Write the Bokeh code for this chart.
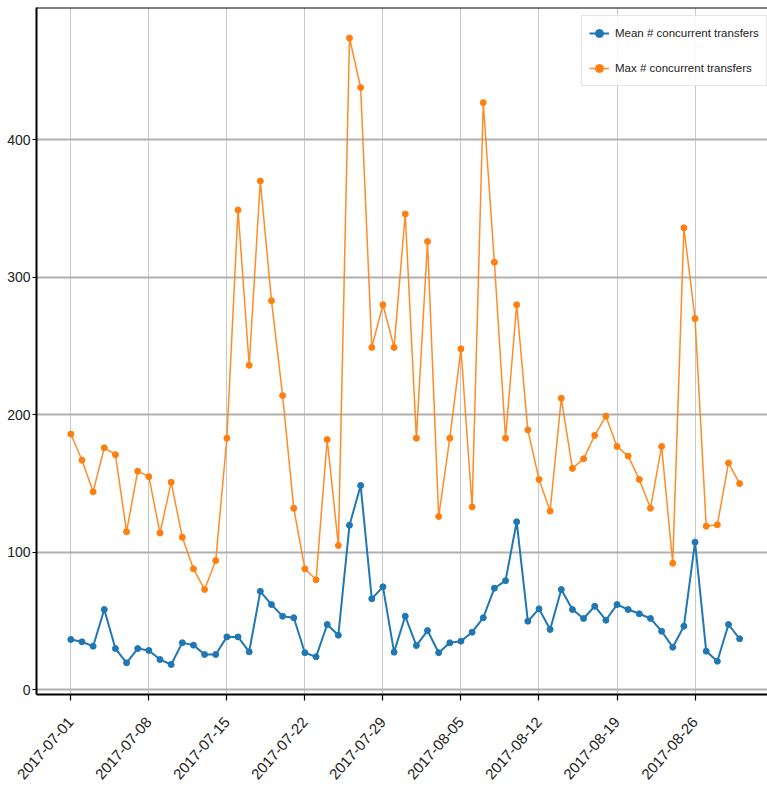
import numpy as np
import pandas as pd
from bokeh.plotting import figure
from bokeh.models import (ColumnDataSource, FixedTicker, DatetimeTickFormatter,
                          Legend, LegendItem, Span, Range1d)
from bokeh.embed import file_html
from bokeh.resources import INLINE

# ---------------- data ----------------
start_date = "2017-07-01"
mean_transfers = [36.6, 34.9, 31.7, 58.4, 30.0, 19.6, 30.0, 28.6, 22.0, 18.4,
                  34.2, 32.5, 25.7, 25.7, 38.5, 38.5, 27.6, 71.6, 62.0, 53.5,
                  52.4, 27.0, 24.0, 47.5, 39.7, 119.7, 148.6, 66.2, 74.9, 27.4,
                  53.5, 32.2, 43.1, 27.0, 34.2, 35.4, 41.9, 52.4, 73.9, 79.4,
                  122.2, 49.9, 58.9, 43.9, 73.0, 58.4, 51.9, 60.8, 50.6, 62.0,
                  58.4, 55.3, 51.9, 42.6, 31.0, 46.3, 107.4, 28.1, 20.8, 47.5,
                  37.1]
max_transfers = [186, 167, 144, 176, 171, 115, 159, 155, 114, 151,
                 111, 88, 73, 94, 183, 349, 236, 370, 283, 214,
                 132, 88, 80, 182, 105, 474, 438, 249, 280, 249,
                 346, 183, 326, 126, 183, 248, 133, 427, 311, 183,
                 280, 189, 153, 130, 212, 161, 168, 185, 199, 177,
                 170, 153, 132, 177, 92, 336, 270, 119, 120, 165,
                 150]
tick_labels = ["2017-07-01", "2017-07-08", "2017-07-15", "2017-07-22",
               "2017-07-29", "2017-08-05", "2017-08-12", "2017-08-19",
               "2017-08-26"]
y_ticks = [0, 100, 200, 300, 400]
series_names = ["Mean # concurrent transfers", "Max # concurrent transfers"]

dates = pd.date_range(start_date, periods=len(mean_transfers), freq="D")
src = ColumnDataSource(dict(date=dates, mean=mean_transfers, mx=max_transfers))

FONT = "'Liberation Sans', 'DejaVu Sans', sans-serif"
BLUE = "#1f77b4"
ORANGE = "#ff7f0e"
Y_TOP = 496.2

t0 = pd.Timestamp(start_date)
p = figure(width=767, height=786, x_axis_type="datetime",
           output_backend="svg", toolbar_location=None,
           x_range=Range1d(t0 + pd.Timedelta(days=-3.08), t0 + pd.Timedelta(days=62.5)),
           y_range=Range1d(-3.4, Y_TOP),
           min_border_left=36, min_border_right=0, min_border_top=7,
           min_border_bottom=91)
p.outline_line_color = None
p.background_fill_color = "white"
p.border_fill_color = "white"

# axes
p.xaxis.ticker = FixedTicker(ticks=[pd.Timestamp(t).value / 1e6 for t in tick_labels])
p.xaxis.formatter = DatetimeTickFormatter(days="%Y-%m-%d", months="%Y-%m-%d",
                                          years="%Y-%m-%d", hours="%Y-%m-%d")
p.xaxis.major_label_orientation = 0.85
p.yaxis.ticker = FixedTicker(ticks=y_ticks)
for ax in (p.xaxis[0], p.yaxis[0]):
    ax.axis_line_color = "black"
    ax.axis_line_width = 2
    ax.major_tick_line_color = "black"
    ax.major_tick_line_width = 1.2
    ax.minor_tick_line_color = None
    ax.major_tick_in = 0
    ax.major_label_text_font = FONT
    ax.major_label_text_color = "#222222"
p.xaxis.major_tick_out = 6
p.yaxis.major_tick_out = 4
p.xaxis.major_label_text_font_size = "15px"
p.yaxis.major_label_text_font_size = "14px"
p.xaxis.major_label_standoff = 19
p.yaxis.major_label_standoff = 2

# grid
p.xgrid.grid_line_color = "#c8c8c8"
p.xgrid.grid_line_width = 1
p.ygrid.grid_line_color = "#b0b0b0"
p.ygrid.grid_line_width = 1.8

# top spine
p.add_layout(Span(location=Y_TOP, dimension="width", line_color="black", line_width=2))

# series
l1 = p.line("date", "mean", source=src, color=BLUE, line_width=2)
s1 = p.scatter("date", "mean", source=src, color=BLUE, size=6)
l2 = p.line("date", "mx", source=src, color=ORANGE, line_width=1.5, line_alpha=0.9)
s2 = p.scatter("date", "mx", source=src, color=ORANGE, size=6)

legend = Legend(items=[LegendItem(label=series_names[0], renderers=[l1, s1]),
                       LegendItem(label=series_names[1], renderers=[l2, s2])],
                location=(545, 608))
legend.label_text_font = FONT
legend.label_text_font_size = "11.5px"
legend.label_text_color = "#222222"
legend.glyph_width = 20
legend.glyph_height = 20
legend.label_height = 20
legend.spacing = 15
legend.padding = 7
legend.margin = 0
legend.label_standoff = 6
legend.border_line_color = "#cccccc"
legend.border_line_width = 1
legend.background_fill_alpha = 0.85
p.add_layout(legend)

open("out.html", "w").write(file_html(p, INLINE))
